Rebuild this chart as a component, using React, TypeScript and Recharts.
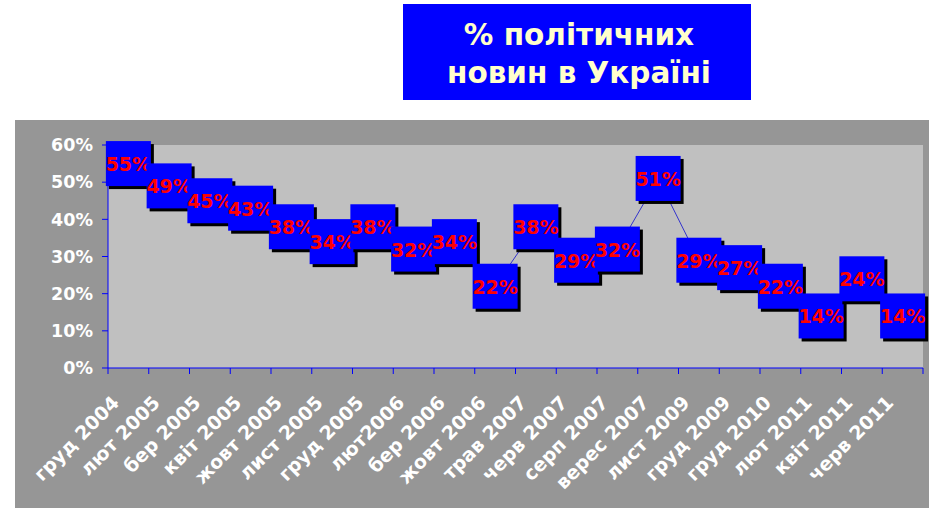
import React from 'react';
import { LineChart, Line, XAxis, YAxis, CartesianGrid, LabelList } from 'recharts';

const categories = ['груд 2004', 'лют 2005', 'бер 2005', 'квіт 2005', 'жовт 2005', 'лист 2005', 'груд 2005', 'лют2006', 'бер 2006', 'жовт 2006', 'трав 2007', 'черв 2007', 'серп 2007', 'верес 2007', 'лист 2009', 'груд 2009', 'груд 2010', 'лют 2011', 'квіт 2011', 'черв 2011'];
const values = [55, 49, 45, 43, 38, 34, 38, 32, 34, 22, 38, 29, 32, 51, 29, 27, 22, 14, 24, 14];
const yTicks = [0, 10, 20, 30, 40, 50, 60];
const titleLines = ['% політичних', 'новин в Україні'];

const data = categories.map((c, i) => ({ name: c, v: values[i] }));

const FONT = 'DejaVu Sans, Verdana, sans-serif';
const CHART_W = 914;
const CHART_H = 388;
const MARGIN = { top: 25, right: 6, left: 0, bottom: 0 };
const Y_W = 93;
const HALF_BAND = (CHART_W - MARGIN.right - Y_W) / categories.length / 2;

function XTick(props: any) {
  const { x, y, payload, index } = props;
  return (
    <g>
      <line x1={x - HALF_BAND} x2={x - HALF_BAND} y1={y} y2={y + 6} stroke="#0000FF" />
      {index === categories.length - 1 && (
        <line x1={x + HALF_BAND} x2={x + HALF_BAND} y1={y} y2={y + 6} stroke="#0000FF" />
      )}
      <text
        transform={`translate(${x - 8},${y + 36}) rotate(-45)`}
        textAnchor="end"
        fill="#FFFFFF"
        fontSize={19}
        fontWeight="bold"
        fontFamily={FONT}
      >
        {payload.value}
      </text>
    </g>
  );
}

function BoxLabel(props: any) {
  const { x, y, value } = props;
  return (
    <g>
      <rect x={x - 22.5 + 3} y={y - 22.5 + 3} width={45} height={45} fill="#000000" />
      <rect x={x - 22.5} y={y - 22.5} width={45} height={45} fill="#0000FF" />
      <text x={x} y={y + 7.5} textAnchor="middle" fill="#FF0000" fontSize={19} fontWeight="bold" fontFamily={FONT}>
        {value}%
      </text>
    </g>
  );
}

export default function App() {
  return (
    <div style={{ position: 'absolute', left: 0, top: 0, width: 929, height: 508, background: '#FFFFFF', overflow: 'hidden' }}>
      <div style={{ position: 'absolute', left: 403, top: 4, width: 348, height: 96, background: '#0000FF' }}>
        <svg width={348} height={96}>
          {titleLines.map((t, i) => (
            <text key={i} x={176} y={41 + i * 38} textAnchor="middle" fill="#FFFFCC" fontSize={29.5} fontWeight="bold" fontFamily={FONT}>
              {t}
            </text>
          ))}
        </svg>
      </div>
      <div style={{ position: 'absolute', left: 15, top: 120, width: CHART_W, height: CHART_H, background: '#969696' }}>
        <LineChart width={CHART_W} height={CHART_H} data={data} margin={MARGIN}>
          <CartesianGrid fill="#C0C0C0" stroke="none" />
          <XAxis
            dataKey="name"
            interval={0}
            height={140}
            padding={{ left: HALF_BAND, right: HALF_BAND }}
            tickSize={0}
            tickMargin={0}
            tickLine={false}
            axisLine={{ stroke: '#0000FF' }}
            tick={<XTick />}
          />
          <YAxis
            width={Y_W}
            domain={[0, 60]}
            ticks={yTicks}
            interval={0}
            tickSize={6}
            tickMargin={9}
            tickFormatter={(v: number) => `${v}%`}
            axisLine={{ stroke: '#0000FF' }}
            tickLine={{ stroke: '#0000FF' }}
            tick={{ fill: '#FFFFFF', fontSize: 17.5, fontWeight: 'bold', fontFamily: FONT }}
          />
          <Line type="linear" dataKey="v" stroke="#3333CC" strokeWidth={1} dot={false} isAnimationActive={false}>
            <LabelList dataKey="v" content={<BoxLabel />} />
          </Line>
        </LineChart>
      </div>
    </div>
  );
}
